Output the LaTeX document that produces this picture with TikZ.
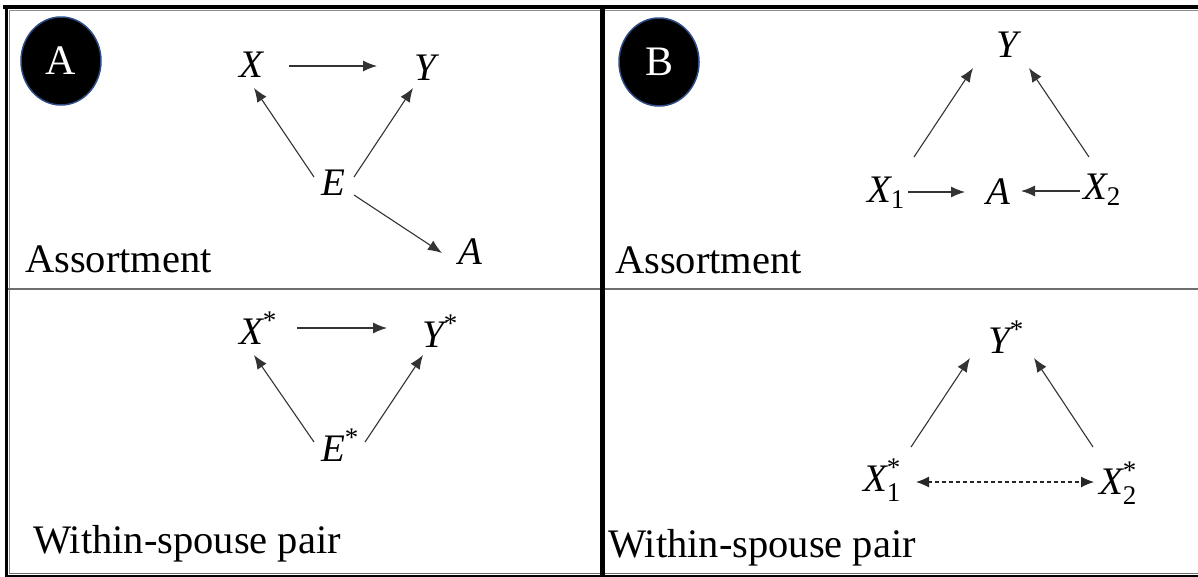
\RequirePackage{fix-cm}
\documentclass[tikz,border=0pt]{standalone}
\usepackage{fontspec}
\setmainfont{Liberation Serif}
\usetikzlibrary{arrows.meta,calc,shapes.geometric}
\definecolor{badgeblue}{HTML}{2E4C86}
\definecolor{divgray}{HTML}{6E6E6E}
\newcommand{\sscr}[1]{\mbox{\fontsize{27}{27}\selectfont #1}}
\begin{document}
\begin{tikzpicture}[x=1pt,y=-1pt,
  var/.style={inner sep=0pt, font=\fontsize{39}{39}\selectfont},
  lbl/.style={inner sep=0pt, anchor=base west, font=\fontsize{40.5}{42}\selectfont},
  badge/.style={ellipse, fill=black, draw=badgeblue, line width=1.5pt, text=white,
     minimum width=80pt, minimum height=88pt, inner sep=0pt, font=\fontsize{42}{42}\selectfont},
  arr/.style={draw=black!80, line width=1.1pt, -{Latex[length=14pt,width=11pt]}},
  darr/.style={draw=black!85, line width=1.1pt, dash pattern=on 4pt off 3pt,
     {Latex[length=13pt,width=11pt]}-{Latex[length=13pt,width=11pt]}},
  frame/.style={draw=black, line cap=rect},
  thin/.style={draw=divgray, line width=1pt}]
\useasboundingbox (0,0) rectangle (1198,576);
% frame
\draw[thin,draw=black!45,line width=0.8pt] (9.5,10) -- (1198,10);
\draw[thin,draw=black!45,line width=0.8pt] (9.5,10) -- (9.5,574);
\draw[thin] (9,573.5) -- (1198,573.5);
\draw[frame,line width=2pt] (6,576) -- (1198,576);
\draw[thin,line width=2pt] (8,289) -- (1198,289);
\draw[frame,line width=4pt] (5,7) -- (1198,7);
\draw[frame,line width=3.5pt] (6.5,7) -- (6.5,576);
\draw[frame,line width=5pt] (602,7) -- (602,576);
% badges
\node[badge] (bA) at (61,61) {A};
\node[badge] (bB) at (659,62) {B};
% panel A top
\node[var] (X) at (251,65) {$\textit{X}$};
\node[var] (Y) at (425,68) {$\textit{Y}$};
\node[var] (E) at (333,183) {$\textit{E}$};
\node[var] (A) at (470,252) {$\textit{A}$};
\draw[arr] ($(X)+(38,1)$) -- ($(Y)+(-48,-2)$);
\draw[arr] ($(E)+(-19,-6)$) -- ($(X)+(3,23)$);
\draw[arr] ($(E)+(21,-6)$) -- ($(Y)+(-12,20)$);
\draw[arr] ($(E)+(21,12)$) -- ($(A)+(-28,1)$);
\node[lbl] (la1) at (25,272) {Assortment};
% panel A bottom
\node[var] (Xs) at (258,328) {$\textit{X}^{\sscr{*}}$};
\node[var] (Ys) at (440,331) {$\textit{Y}^{\sscr{*}}$};
\node[var] (Es) at (340,445) {$\textit{E}^{\sscr{*}}$};
\draw[arr] ($(Xs)+(39,0)$) -- ($(Ys)+(-53,-3)$);
\draw[arr] ($(Es)+(-26,-3)$) -- ($(Xs)+(-4,27)$);
\draw[arr] ($(Es)+(25,-3)$) -- ($(Ys)+(-17,24)$);
\node[lbl] (la2) at (33,553) {Within-spouse pair};
% panel B top
\node[var] (YB) at (1007,45) {$\textit{Y}$};
\node[var] (X1) at (886,193) {$\textit{X}_{\sscr{1}}$};
\node[var] (AB) at (998,192) {$\textit{A}$};
\node[var] (X2) at (1102,190) {$\textit{X}_{\sscr{2}}$};
\draw[arr] ($(X1)+(22,-1)$) -- ($(AB)+(-33,0)$);
\draw[arr] ($(X2)+(-22,1)$) -- ($(AB)+(23,-1)$);
\draw[arr] ($(X1)+(28,-36)$) -- ($(YB)+(-34,23)$);
\draw[arr] ($(X2)+(-13,-33)$) -- ($(YB)+(22,23)$);
\node[lbl] (lb1) at (615,273) {Assortment};
% panel B bottom
\node[var] (YBs) at (1006,337) {$\textit{Y}^{\sscr{*}}$};
\node[var] (X1s) at (882,480) {$\textit{X}_{\sscr{1}}^{\sscr{*}}$};
\node[var] (X2s) at (1118,483) {$\textit{X}_{\sscr{2}}^{\sscr{*}}$};
\draw[darr] ($(X1s)+(34,2)$) -- ($(X2s)+(-24,-1)$);
\draw[arr] ($(X1s)+(29,-33)$) -- ($(YBs)+(-36,21)$);
\draw[arr] ($(X2s)+(-25,-36)$) -- ($(YBs)+(28,21)$);
\node[lbl] (lb2) at (608,557) {Within-spouse pair};
\end{tikzpicture}
\end{document}
